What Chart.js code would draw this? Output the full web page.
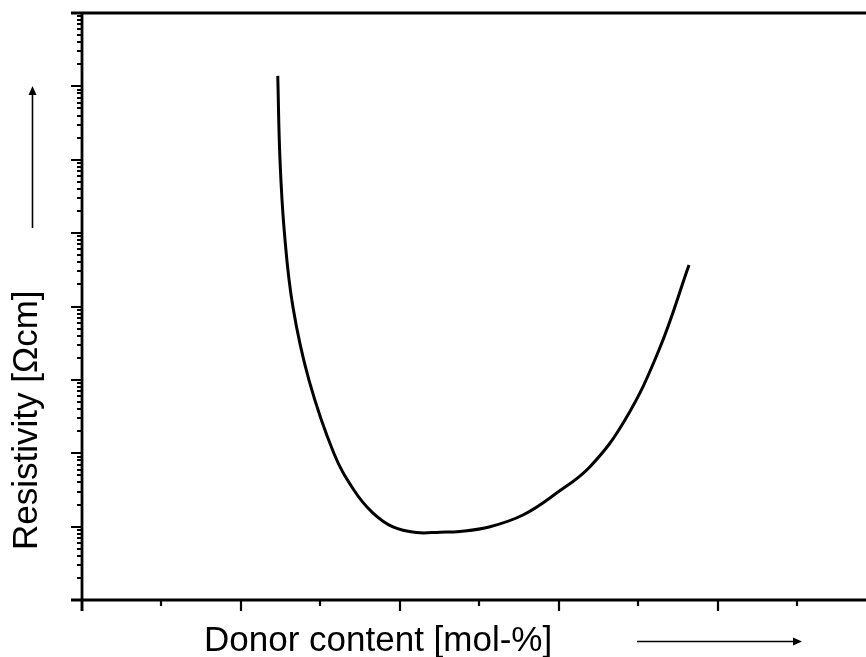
<!DOCTYPE html>
<html>
<head>
<meta charset="utf-8">
<script src="https://cdn.jsdelivr.net/npm/chart.js@4/dist/chart.umd.min.js"></script>
<style>
  html, body { margin: 0; padding: 0; background: #fff; }
  #wrap { width: 866px; height: 657px; position: relative; }
</style>
</head>
<body>
<div id="wrap"><canvas id="c" width="866" height="657"></canvas></div>
<script>
// Donor content in axis units (one unit per major x tick)
const donorContent = [1.232, 1.246, 1.274, 1.327, 1.428, 1.585, 1.711, 1.825, 1.957, 2.106,
  2.253, 2.379, 2.568, 2.775, 2.987, 3.197, 3.417, 3.631, 3.820];
// Resistivity in Ωcm (log axis, one decade per major y tick)
const resistivity = [1.39e7, 1.0e6, 1.0e5, 1.0e4, 1.0e3, 100, 31.6, 15.8, 9.9, 8.3,
  8.4, 8.6, 9.98, 14.4, 28.7, 65.6, 284, 2550, 3.68e4];

const xMajorTicks = [0, 1, 2, 3, 4];
const xMinorTicks = [0.5, 1.5, 2.5, 3.5, 4.5];
const yDecades = [1, 1e1, 1e2, 1e3, 1e4, 1e5, 1e6, 1e7, 1e8];
const yMinorSteps = [2, 3, 4, 5, 6, 7, 8, 9];

const xTitle = 'Donor content [mol-%]';
const yTitle = 'Resistivity [Ωcm]';

const FONT = '"Liberation Sans", Arial, sans-serif';

function arrow(ctx, x1, y1, x2, y2) {
  const ang = Math.atan2(y2 - y1, x2 - x1);
  const len = 9, half = 4;
  ctx.beginPath();
  ctx.moveTo(x1, y1);
  ctx.lineTo(x2 - Math.cos(ang) * len, y2 - Math.sin(ang) * len);
  ctx.stroke();
  ctx.beginPath();
  ctx.moveTo(x2, y2);
  ctx.lineTo(x2 - Math.cos(ang) * len - Math.sin(ang) * half, y2 - Math.sin(ang) * len + Math.cos(ang) * half);
  ctx.lineTo(x2 - Math.cos(ang) * len + Math.sin(ang) * half, y2 - Math.sin(ang) * len - Math.cos(ang) * half);
  ctx.closePath();
  ctx.fill();
}

const axesPlugin = {
  id: 'axesFrame',
  afterDraw(chart) {
    const ctx = chart.ctx;
    const xs = chart.scales.x, ys = chart.scales.y;
    const a = chart.chartArea;
    ctx.save();
    ctx.strokeStyle = '#000';
    ctx.fillStyle = '#000';
    ctx.lineCap = 'butt';

    // frame lines
    ctx.lineWidth = 2.8;
    ctx.beginPath();
    ctx.moveTo(a.left - 11, a.bottom); ctx.lineTo(a.right, a.bottom);
    ctx.moveTo(a.left, a.top); ctx.lineTo(a.left, a.bottom + 11);
    ctx.moveTo(a.left - 11, a.top); ctx.lineTo(a.right, a.top);
    ctx.stroke();

    // x ticks
    ctx.lineWidth = 2.2;
    ctx.beginPath();
    xMajorTicks.forEach(v => {
      const p = Math.round(xs.getPixelForValue(v));
      ctx.moveTo(p, a.bottom); ctx.lineTo(p, a.bottom + 11);
    });
    xMinorTicks.forEach(v => {
      const p = Math.round(xs.getPixelForValue(v));
      ctx.moveTo(p, a.bottom); ctx.lineTo(p, a.bottom + 6);
    });
    // y ticks
    yDecades.forEach((d, i) => {
      const p = Math.round(ys.getPixelForValue(d));
      ctx.moveTo(a.left, p); ctx.lineTo(a.left - 11, p);
      if (i < yDecades.length - 1) {
        yMinorSteps.forEach(k => {
          const q = Math.round(ys.getPixelForValue(d * k));
          ctx.moveTo(a.left, q); ctx.lineTo(a.left - 5, q);
        });
      }
    });
    ctx.stroke();

    // titles
    ctx.font = '35px ' + FONT;
    ctx.textBaseline = 'alphabetic';
    ctx.textAlign = 'left';
    ctx.fillText(xTitle, 204, 651);
    ctx.save();
    ctx.translate(37, 550);
    ctx.rotate(-Math.PI / 2);
    ctx.fillText(yTitle, 0, 0);
    ctx.restore();

    // direction arrows
    ctx.lineWidth = 1.6;
    arrow(ctx, 637, 641.5, 802, 641.5);
    arrow(ctx, 32.5, 228, 32.5, 86);
    ctx.restore();
  }
};

const points = donorContent.map((x, i) => ({ x, y: resistivity[i] }));

new Chart(document.getElementById('c'), {
  type: 'scatter',
  data: {
    datasets: [{
      data: points,
      showLine: true,
      borderColor: '#000',
      borderWidth: 3,
      pointRadius: 0,
      tension: 0.4,
      fill: false
    }]
  },
  options: {
    responsive: false,
    animation: false,
    events: [],
    layout: { padding: { top: 13, left: 0, right: 0, bottom: 0 } },
    plugins: { legend: { display: false }, tooltip: { enabled: false } },
    scales: {
      x: {
        type: 'linear', min: 0, max: 4.934,
        ticks: { display: false }, grid: { display: false }, border: { display: false },
        afterFit(s) { s.height = 57; }
      },
      y: {
        type: 'logarithmic', min: 1, max: 1e8,
        ticks: { display: false }, grid: { display: false }, border: { display: false },
        afterFit(s) { s.width = 82; }
      }
    }
  },
  plugins: [axesPlugin]
});
</script>
</body>
</html>
